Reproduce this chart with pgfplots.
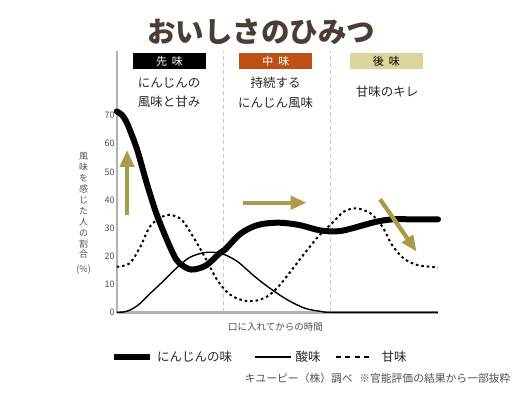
\documentclass[border=0pt]{standalone}
\usepackage{fontspec}
\setmainfont{Noto Sans CJK JP}
\usepackage{pgfplots}
\pgfplotsset{compat=1.18}
\usetikzlibrary{arrows.meta}
\definecolor{olivearrow}{RGB}{170,155,75}
\definecolor{midcol}{RGB}{190,80,22}
\definecolor{latecol}{RGB}{220,213,155}
\definecolor{titlecol}{RGB}{75,60,52}
\definecolor{axgray}{RGB}{178,178,178}
\definecolor{dashgray}{RGB}{200,200,200}
\definecolor{txtgray}{RGB}{80,80,80}
\definecolor{txtdark}{RGB}{40,40,40}
\begin{document}
\begin{tikzpicture}[x=1pt,y=1pt]
\useasboundingbox (0,0) rectangle (522,392);
% title
\node[font=\fontsize{28.5}{30}\selectfont\bfseries, text=titlecol] at (261,360) {おいしさのひみつ};
% header boxes
\node[fill=black, text=white, minimum width=73pt, minimum height=16.6pt, inner sep=0pt, font=\fontsize{11}{12}\selectfont] at (169.5,331) {先\hspace{0.45em}味};
\node[fill=midcol, text=white, minimum width=73pt, minimum height=16.6pt, inner sep=0pt, font=\fontsize{11}{12}\selectfont] at (275.8,331) {中\hspace{0.45em}味};
\node[fill=latecol, text=black, minimum width=73pt, minimum height=16.6pt, inner sep=0pt, font=\fontsize{11}{12}\selectfont] at (386.3,331) {後\hspace{0.45em}味};
\node[align=center, font=\fontsize{12.5}{19.5}\selectfont, text=txtdark] at (169,299.3) {にんじんの\\風味と甘み};
\node[align=center, font=\fontsize{12.5}{19.5}\selectfont, text=txtdark] at (275.5,299.3) {持続する\\にんじん風味};
\node[font=\fontsize{12.5}{14}\selectfont, text=txtdark] at (387,300.3) {甘味のキレ};
% footnote
\node[anchor=east, font=\fontsize{10.8}{12}\selectfont, text=txtgray] at (514,14) {キユーピー（株）調べ\hspace{0.6em}※官能評価の結果から一部抜粋};
\begin{axis}[
  at={(116.7pt,79.7pt)}, anchor=south west,
  scale only axis, width=321.3pt, height=261.3pt,
  xmin=0, xmax=3, ymin=0, ymax=93,
  axis x line=bottom, axis y line=left,
  axis line style={-, draw=axgray, line width=1.8pt},
  x axis line style={line width=2.6pt},
  xtick=\empty,
  ytick={0,10,20,30,40,50,60,70},
  major tick length=0pt,
  /pgf/number format/assume math mode=true,
  yticklabel style={font=\fontsize{9}{10}\selectfont, text=txtgray, inner sep=2pt},
  xlabel={口に入れてからの時間},
  every axis x label/.style={at={(axis description cs:0.494,-0.056)}, anchor=center, font=\fontsize{9.5}{11}\selectfont, text=txtgray},
  ylabel={風\\味\\を\\感\\じ\\た\\人\\の\\割\\合\\[3.6pt](\%)},
  every axis y label/.style={at={(axis description cs:-0.103,0.378)}, anchor=center, align=center, font=\fontsize{9}{10.9}\selectfont, text=txtgray},
  clip=false,
  legend columns=3,
  legend style={at={(axis description cs:-0.027,-0.171)}, anchor=west, draw=none, fill=none,
    font=\fontsize{12.5}{14}\selectfont, text=txtdark,
    /tikz/column 1/.style={column sep=2pt},
    /tikz/column 2/.style={column sep=20pt},
    /tikz/column 3/.style={column sep=2pt},
    /tikz/column 4/.style={column sep=12pt},
    /tikz/column 5/.style={column sep=6pt}},
  legend image code/.code={\draw[#1, line cap=butt] (0pt,0pt) -- (36pt,0pt);},
]
\draw[dashgray, dash pattern=on 4pt off 3pt, line width=1pt] (axis cs:1,0) -- (axis cs:1,93);
\draw[dashgray, dash pattern=on 4pt off 3pt, line width=1pt] (axis cs:2,0) -- (axis cs:2,93);

\addplot[black, line width=6pt, smooth, tension=0.5, line cap=round] coordinates {
(0.0,71.5) (0.05,70.2) (0.1,67) (0.19,58) (0.28,46) (0.37,35.2) (0.47,25.7)
(0.56,18.6) (0.66,15.6) (0.73,15.3) (0.84,16.8) (0.96,21) (1.01,22.3)
(1.16,28.1) (1.32,31.1) (1.51,31.9) (1.70,31.1) (1.88,29.3) (2.0,28.8)
(2.1,29.0) (2.2,29.9) (2.42,32.2) (2.58,33.1) (2.75,33.1) (3.0,33.1)};
\addlegendentry{にんじんの味}
\addplot[black, line width=1.4pt, smooth, tension=0.5] coordinates {
(0,0) (0.08,0.2) (0.15,1.3) (0.22,3.2) (0.31,6.6) (0.44,11.3) (0.56,15.8) (0.68,19.5)
(0.81,21.2) (0.93,21.3) (1.01,20.5) (1.13,18) (1.29,12.7) (1.44,8.3)
(1.60,4.3) (1.76,1.4) (1.91,0.3) (2.0,0) (2.5,0) (3.0,0)};
\addlegendentry{酸味}
\addplot[black, line width=2pt, smooth, tension=0.5, dash pattern=on 2.5pt off 3pt,
  legend image code/.code={\draw[black, line width=2pt, dash pattern=on 5pt off 4.5pt] (0pt,0pt) -- (37pt,0pt);}] coordinates {
(0,16.2) (0.12,17.4) (0.22,23.3) (0.31,30.5) (0.42,34.0) (0.51,34.6) (0.61,32.8)
(0.72,26.5) (0.84,18.5) (0.93,12) (1.03,7.2) (1.12,5) (1.22,4) (1.32,4.3)
(1.42,6) (1.53,10) (1.73,19.8) (1.88,26.9) (2.01,31.7) (2.12,35.8) (2.24,37.0)
(2.37,35.2) (2.48,30.5) (2.57,24) (2.68,19.2) (2.81,16.8) (3.0,16.0)};
\addlegendentry{甘味}

\draw[olivearrow, line width=4.6pt, -{Triangle[length=17pt,width=14pt]}] (axis cs:0.097,34.6) -- (axis cs:0.097,57.8);
\draw[olivearrow, line width=4.3pt, -{Triangle[length=16pt,width=13pt]}] (axis cs:1.18,39) -- (axis cs:1.774,39);
\draw[olivearrow, line width=4.3pt, -{Triangle[length=16pt,width=13pt]}] (axis cs:2.459,40.2) -- (axis cs:2.80,21.6);
\end{axis}
\end{tikzpicture}
\end{document}
